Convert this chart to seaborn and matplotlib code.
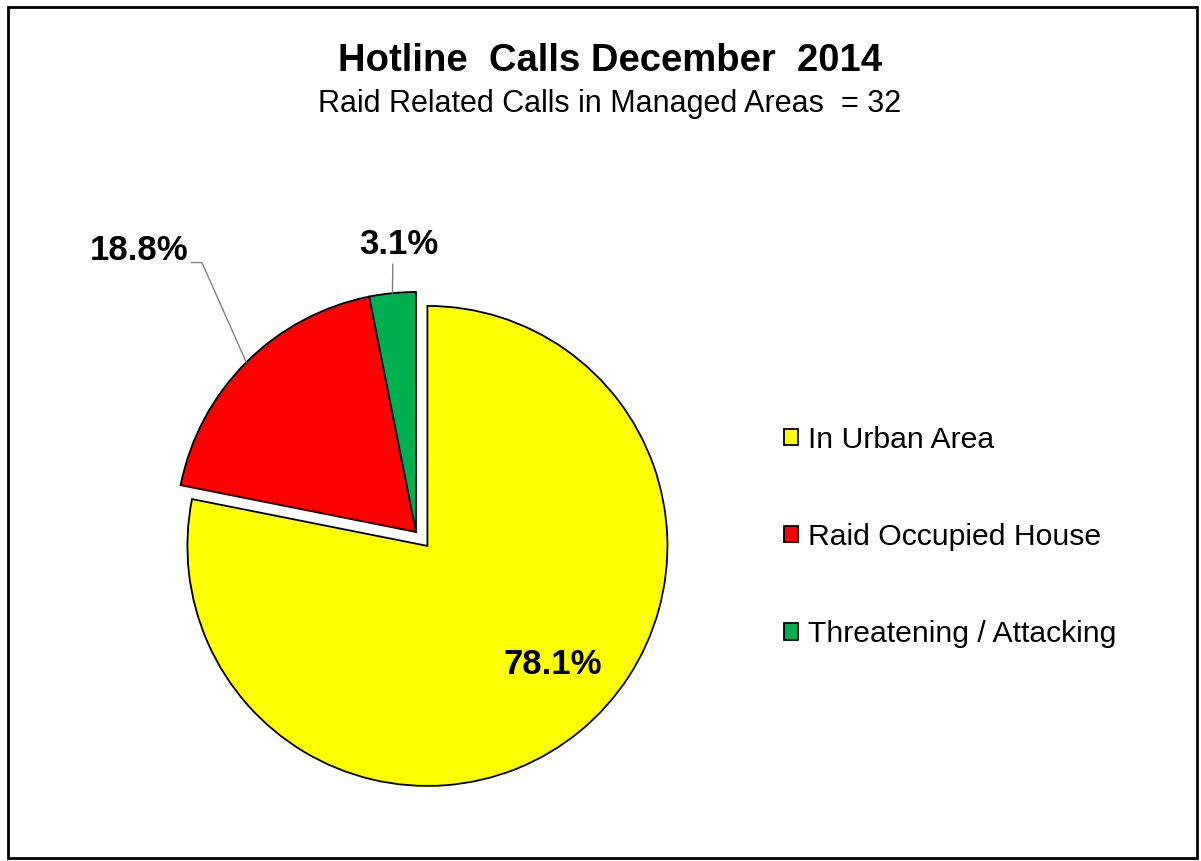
import numpy as np
import seaborn as sns
import matplotlib.pyplot as plt
from matplotlib.patches import Rectangle

categories = ['In Urban Area', 'Raid Occupied House', 'Threatening / Attacking']
calls = [25, 6, 1]
colors = ['#FFFF00', '#FF0000', '#00B050']
explode = [0.075, 0, 0]

sns.set_theme(style='white')
plt.rcParams['font.family'] = ['Liberation Sans', 'DejaVu Sans']
plt.rcParams['text.color'] = 'black'

fig = plt.figure(figsize=(12.01, 8.61), dpi=100)
fig.patch.set_facecolor('white')

# pie axes: centre ~ (416, 532) px, radius ~240 px
cx, cy, r = 416, 532, 240
ax = fig.add_axes([(cx - r) / 1201, (861 - cy - r) / 861, 2 * r / 1201, 2 * r / 861])
wedges, _ = ax.pie(calls, colors=colors, explode=explode, startangle=90, counterclock=False,
                   radius=1, wedgeprops=dict(edgecolor='black', linewidth=1.3))
ax.set_xlim(-1, 1)
ax.set_ylim(-1, 1)
ax.set_aspect('equal')
ax.axis('off')

pct = [100 * v / sum(calls) for v in calls]
lbl_kw = dict(fontsize=25, fontweight='bold', color='black', annotation_clip=False)

# 78.1% inside the yellow slice
w = wedges[0]
mid = np.deg2rad((w.theta1 + w.theta2) / 2)
ax.text(0.74 * np.cos(mid) + 0.10, 0.74 * np.sin(mid) + 0.02, f'{pct[0]:.1f}%',
        ha='center', va='center', fontsize=25, fontweight='bold', color='black')

# 18.8% with elbow leader line
w = wedges[1]
mid = np.deg2rad((w.theta1 + w.theta2) / 2)
ax.annotate(f'{pct[1]:.1f}%', xy=(1.0 * np.cos(mid), 1.0 * np.sin(mid)),
            xytext=(-0.95, 1.175), ha='right', va='center',
            arrowprops=dict(arrowstyle='-', color='#808080', lw=1,
                            connectionstyle='angle,angleA=0,angleB=114,rad=0',
                            shrinkA=0, shrinkB=0, relpos=(1.0, 0.12)),
            **lbl_kw)

# 3.1% with vertical leader line
w = wedges[2]
mid = np.deg2rad((w.theta1 + w.theta2) / 2)
ax.annotate(f'{pct[2]:.1f}%', xy=(np.cos(mid), np.sin(mid)),
            xytext=(-0.07, 1.13), ha='center', va='bottom',
            arrowprops=dict(arrowstyle='-', color='#808080', lw=1,
                            shrinkA=0, shrinkB=0,
                            relpos=(0.42, 0)),
            **lbl_kw)

fig.text(610 / 1201, 1 - 61 / 861, 'Hotline  Calls December  2014', ha='center', va='center',
         fontsize=27.5, fontweight='bold')
fig.text(610 / 1201, 1 - 104 / 861, 'Raid Related Calls in Managed Areas  = 32', ha='center',
         va='center', fontsize=22)

fig.legend(wedges, categories, loc='center left', bbox_to_anchor=(784 / 1201, (861 - 537) / 861),
           frameon=False, fontsize=21.7, handlelength=0.45, handleheight=0.45, handletextpad=0.35,
           labelspacing=2.3, borderpad=0, borderaxespad=0, labelcolor='black')

fig.patches.append(Rectangle((8 / 1201, 3 / 861), 1189 / 1201, 851 / 861, transform=fig.transFigure,
                             fill=False, edgecolor='black', linewidth=2))

fig.savefig('out.png', dpi=100)
